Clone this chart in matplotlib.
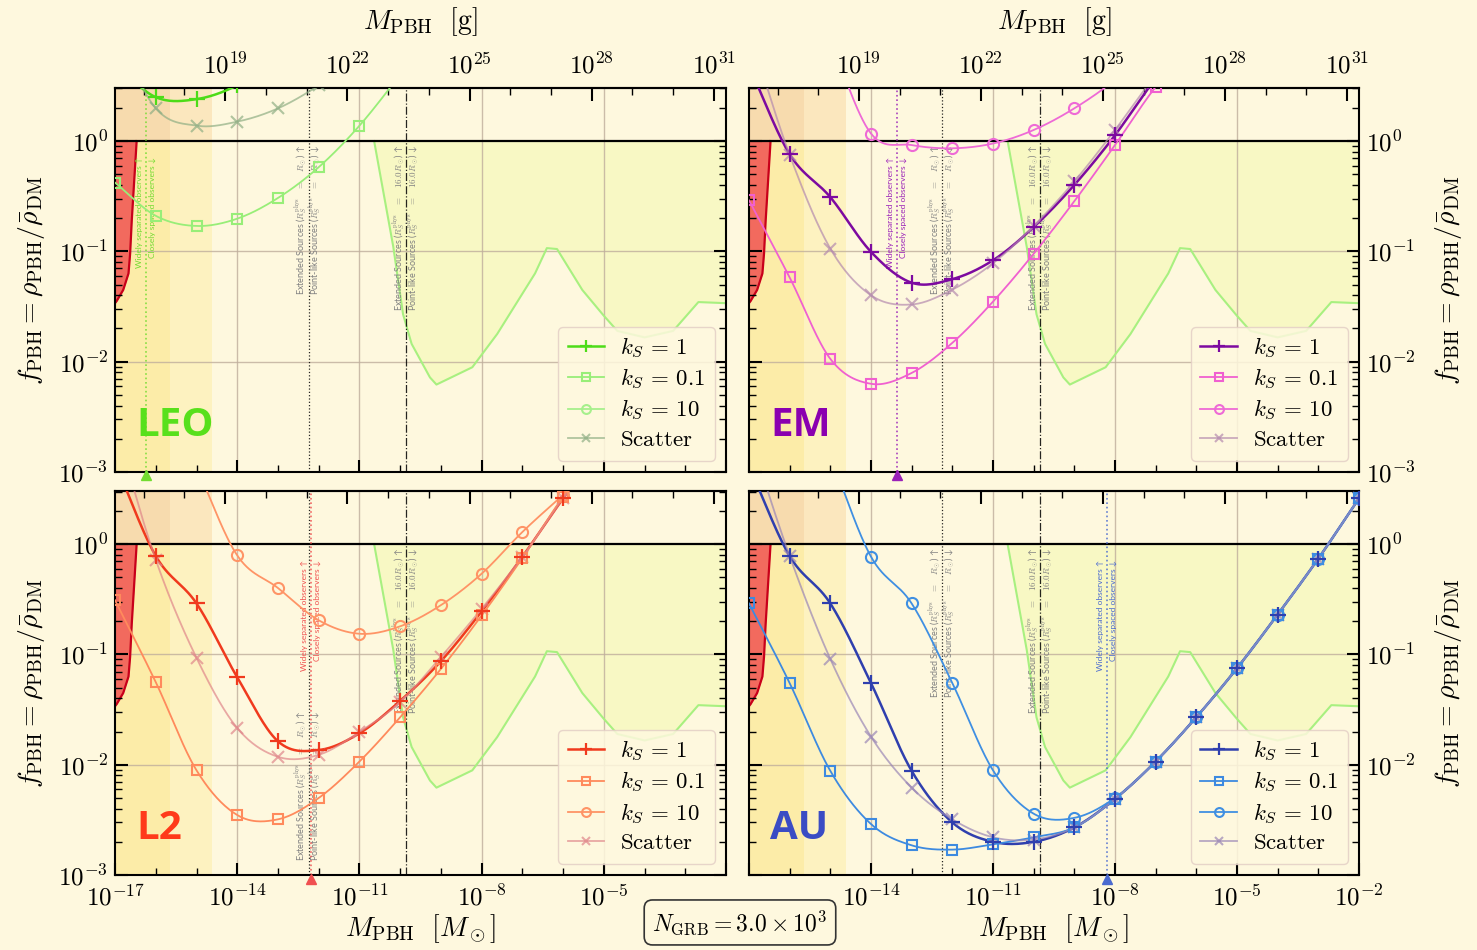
import numpy as np
import matplotlib
matplotlib.use("Agg")
import matplotlib.pyplot as plt
import matplotlib.transforms as mtransforms
from matplotlib.lines import Line2D
from matplotlib.ticker import FixedLocator, LogLocator, FuncFormatter, NullFormatter

plt.rcParams.update({
    "mathtext.fontset": "cm",
    "font.family": ["DejaVu Serif"],
    "axes.linewidth": 1.5,
})

nan = np.nan
BG = "#fef8de"
MSUN_G = 1.989e33

# ---------------------------------------------------------------- data
# PBH mass grid, log10(M / M_sun), one point per decade
MASS_DECADES = [-17, -16, -15, -14, -13, -12, -11, -10, -9, -8, -7, -6, -5, -4, -3, -2]

# LEO
LEO_KS1 = [5.0, 2.5, 2.4, 3.2, 5.5, 10, nan, nan, nan, nan, nan, nan, nan, nan, nan, nan]
LEO_KS01 = [0.42, 0.21, 0.17, 0.198, 0.305, 0.58, 1.38, 4.0, 12, nan, nan, nan, nan, nan, nan, nan]
LEO_KS10 = [nan, nan, 20, 12, 9, 8, 9, 14, nan, nan, nan, nan, nan, nan, nan, nan]
LEO_SCAT = [10, 1.98, 1.38, 1.5, 1.98, 3.2, 6, nan, nan, nan, nan, nan, nan, nan, nan, nan]

# EM
EM_KS1 = [4.8, 0.76, 0.31, 0.099, 0.052, 0.056, 0.083, 0.166, 0.40, 1.13, 3.7, 10, nan, nan, nan, nan]
EM_KS01 = [0.29, 0.058, 0.0106, 0.0063, 0.0079, 0.0148, 0.035, 0.095, 0.285, 0.92, 3.1, 8, nan, nan, nan, nan]
EM_KS10 = [nan, nan, 8.0, 1.17, 0.92, 0.86, 0.95, 1.26, 1.98, 3.6, 8, nan, nan, nan, nan, nan]
EM_SCAT = [10, 0.75, 0.106, 0.04, 0.033, 0.045, 0.078, 0.17, 0.43, 1.26, 4.0, 11, nan, nan, nan, nan]

# L2
L2_KS1 = [5.5, 0.78, 0.29, 0.062, 0.0163, 0.0136, 0.0193, 0.038, 0.087, 0.246, 0.77, 2.6, 8, nan, nan, nan]
L2_KS01 = [0.31, 0.056, 0.0089, 0.0035, 0.0032, 0.005, 0.0107, 0.027, 0.074, 0.226, 0.75, 2.7, 8, nan, nan, nan]
L2_KS10 = [nan, nan, 5.0, 0.79, 0.40, 0.204, 0.154, 0.18, 0.28, 0.54, 1.29, 2.8, 6, nan, nan, nan]
L2_SCAT = [12, 0.72, 0.093, 0.0215, 0.0118, 0.0123, 0.0198, 0.037, 0.095, 0.26, 0.77, 2.6, 8, nan, nan, nan]

# AU
AU_KS1 = [5.1, 0.78, 0.29, 0.055, 0.0088, 0.0030, 0.0020, 0.0020, 0.0027, 0.0049, 0.0107, 0.027, 0.075, 0.23, 0.74, 2.6]
AU_KS01 = [0.29, 0.055, 0.0088, 0.0029, 0.00186, 0.0017, 0.0019, 0.0022, 0.0027, 0.0049, 0.0107, 0.027, 0.075, 0.23, 0.74, 2.6]
AU_KS10 = [nan, nan, 6.3, 0.77, 0.29, 0.055, 0.0089, 0.0036, 0.0033, 0.005, 0.0107, 0.027, 0.075, 0.23, 0.74, 2.6]
AU_SCAT = [10, 0.78, 0.091, 0.018, 0.0062, 0.0032, 0.0022, 0.0021, 0.0027, 0.0049, 0.0107, 0.027, 0.075, 0.23, 0.74, 2.6]

# existing microlensing bound
ML_LOGM = [-10.64, -10.17, -9.93, -9.72, -9.27, -9.11, -8.23, -7.62, -6.69, -6.4, -6.15,
           -5.53, -5.01, -4.67, -4.0, -3.3, -2.68, -2.0]
ML_F = [1.0, 0.11, 0.0269, 0.0145, 0.0072, 0.0062, 0.0089, 0.0178, 0.0631, 0.107, 0.105,
        0.0447, 0.0263, 0.019, 0.0166, 0.019, 0.0347, 0.0339]

# existing evaporation bound
EVAP_LOGM = [-17.0, -16.96, -16.8, -16.67, -16.63, -16.59, -16.47]
EVAP_F = [0.034, 0.0355, 0.0447, 0.063, 0.0955, 0.19, 1.0]

# shaded mass bands (log10 M / M_sun)
BAND_EDGES = [-17.0, -15.65, -14.62]

# characteristic masses for the source-size transitions
SRC_SUN_LOGM = -12.25
SRC_16SUN_LOGM = -9.85

N_GRB_LABEL = r"$N_{\rm GRB} = 3.0 \times 10^3$"

SERIES_LABELS = [r"$k_S\,=\,1$", r"$k_S\,=\,0.1$", r"$k_S\,=\,10$", r"$\mathrm{Scatter}$"]

PANELS = [
    dict(name="LEO", data=[LEO_KS1, LEO_KS01, LEO_KS10, LEO_SCAT], obs=-16.24,
         colors=["#4ddc18", "#98ee78", "#a6f08c", "#8fae84"], label_color="#58e01c",
         obs_color="#72dc30"),
    dict(name="EM", data=[EM_KS1, EM_KS01, EM_KS10, EM_SCAT], obs=-13.36,
         colors=["#7d0aa0", "#f060d0", "#ee6ad6", "#b48aae"], label_color="#8a00b0",
         obs_color="#9a20b8"),
    dict(name="L2", data=[L2_KS1, L2_KS01, L2_KS10, L2_SCAT], obs=-12.2,
         colors=["#f03a1e", "#ff8a5c", "#ff9466", "#e0868a"], label_color="#ff3a1a",
         obs_color="#f05050"),
    dict(name="AU", data=[AU_KS1, AU_KS01, AU_KS10, AU_SCAT], obs=-8.2,
         colors=["#2f3fae", "#3d8ae0", "#3f8fe2", "#9a86b6"], label_color="#3a4cc4",
         obs_color="#4a6ad0"),
]

STYLES = [
    dict(marker="+", ms=11, mew=1.6, lw=1.8, mfc="none", alpha=1.0),
    dict(marker="s", ms=7, mew=1.5, lw=1.3, mfc="none", alpha=1.0),
    dict(marker="o", ms=8, mew=1.5, lw=1.3, mfc="none", alpha=1.0),
    dict(marker="x", ms=8, mew=1.5, lw=1.3, mfc="none", alpha=0.7),
]

XMIN, XMAX = 1e-17, 1e-2
YMIN, YMAX = 1e-3, 3.03

SRC_FONT = dict(family=["Lato", "DejaVu Sans"], fontsize=6.5)
OBS_FONT = dict(family=["Lato", "DejaVu Sans"], fontsize=6.0)


def smooth(logm, logf, n=30):
    """Catmull-Rom curve through points in log-log space."""
    P = np.column_stack([logm, logf])
    m = len(P)
    out = []
    for i in range(m - 1):
        p1, p2 = P[i], P[i + 1]
        p0 = P[i - 1] if i > 0 else 2 * p1 - p2
        p3 = P[i + 2] if i + 2 < m else 2 * p2 - p1
        t = np.linspace(0, 1, n, endpoint=(i == m - 2))[:, None]
        seg = 0.5 * (2 * p1 + (-p0 + p2) * t + (2 * p0 - 5 * p1 + 4 * p2 - p3) * t ** 2
                     + (-p0 + 3 * p1 - 3 * p2 + p3) * t ** 3)
        out.append(seg)
    out = np.vstack(out)
    return out[:, 0], out[:, 1]


def sci_formatter(skip=()):
    def f(v, pos):
        if v <= 0:
            return ""
        e = int(round(np.log10(v)))
        if e in skip:
            return ""
        return r"$10^{%d}$" % e
    return FuncFormatter(f)


fig = plt.figure(figsize=(14.77, 9.5), dpi=100, facecolor=BG)
positions = [
    [0.0779, 0.5032, 0.4137, 0.4042],
    [0.5071, 0.5032, 0.4130, 0.4042],
    [0.0779, 0.0789, 0.4137, 0.4042],
    [0.5071, 0.0789, 0.4130, 0.4042],
]

for idx, (panel, pos) in enumerate(zip(PANELS, positions)):
    ax = fig.add_axes(pos)
    ax.set_facecolor(BG)
    ax.set_xscale("log")
    ax.set_yscale("log")
    ax.set_xlim(XMIN, XMAX)
    ax.set_ylim(YMIN, YMAX)
    top_row = idx < 2
    left_col = idx % 2 == 0

    # shaded mass bands
    b0, b1, b2 = [10 ** b for b in BAND_EDGES]
    ax.fill_between([b0, b1], YMIN, 1, color="#fceca8", lw=0, zorder=0)
    ax.fill_between([b1, b2], YMIN, 1, color="#fdf2c0", lw=0, zorder=0)
    ax.fill_between([b0, b1], 1, YMAX, color="#f7dbae", lw=0, zorder=0)
    ax.fill_between([b1, b2], 1, YMAX, color="#fbe7be", lw=0, zorder=0)

    # microlensing bound: excluded region between the bound and f = 1
    mlx = 10 ** np.array(ML_LOGM)
    ax.fill(np.concatenate([mlx, mlx[::-1]]),
            np.concatenate([ML_F, np.ones(len(ML_F))]),
            color="#f8f8c4", lw=0, zorder=0.5)
    ax.plot(mlx, ML_F, color="#a8f080", lw=1.5, zorder=1)

    # evaporation bound
    evx = 10 ** np.array(EVAP_LOGM)
    ax.fill_between(evx, EVAP_F, 1, color="#f26a5e", lw=0, zorder=1)
    ax.plot(evx, EVAP_F, color="#c8001a", lw=1.6, zorder=1.1)

    # grid
    for g in [-14, -11, -8, -5]:
        ax.axvline(10.0 ** g, color="#bfae9c", lw=1.0, alpha=0.8, zorder=0.8)
    for g in [1e-1, 1e-2]:
        ax.axhline(g, color="#bfae9c", lw=1.0, alpha=0.8, zorder=0.8)
    ax.axhline(1.0, color="black", lw=1.6, zorder=2)

    # source-size transitions
    low = panel["name"] == "L2"
    for lm, ls, tag, y_txt, va in [
        (SRC_SUN_LOGM, ":", r"R_\odot", 1.35e-3 if low else 0.93, "bottom" if low else "top"),
        (SRC_16SUN_LOGM, "-.", r"16.0R_\odot", 0.93, "top"),
    ]:
        x = 10 ** lm
        ax.axvline(x, color="black", ls=ls, lw=0.9, alpha=0.85, zorder=2)
        tl = mtransforms.offset_copy(ax.transData, fig=fig, x=-5, y=0, units="points")
        tr = mtransforms.offset_copy(ax.transData, fig=fig, x=5, y=0, units="points")
        ax.text(x, y_txt, r"Extended Sources ($R_S^{\rm phys}\quad=\quad %s$) ↑" % tag,
                transform=tl, rotation=90, ha="center", va=va, color="#808080",
                zorder=2, **SRC_FONT)
        ax.text(x, y_txt, r"Point-like Sources ($R_S^{\rm phys}\quad=\quad %s$) ↓" % tag,
                transform=tr, rotation=90, ha="center", va=va, color="#808080",
                zorder=2, **SRC_FONT)

    # observer separation
    xo = 10 ** panel["obs"]
    oc = panel["obs_color"]
    ax.axvline(xo, color=oc, ls=":", lw=1.2, alpha=0.85, zorder=2)
    tl = mtransforms.offset_copy(ax.transData, fig=fig, x=-4.5, y=0, units="points")
    tr = mtransforms.offset_copy(ax.transData, fig=fig, x=4.5, y=0, units="points")
    ax.text(xo, 0.72, "Widely separated observers ↑", transform=tl, rotation=90,
            ha="center", va="top", color=oc, zorder=2, **OBS_FONT)
    ax.text(xo, 0.72, "Closely spaced observers ↓", transform=tr, rotation=90,
            ha="center", va="top", color=oc, zorder=2, **OBS_FONT)
    tri = mtransforms.offset_copy(ax.transData, fig=fig, x=0, y=-2.5, units="points")
    ax.plot([xo], [YMIN], marker="^", ms=6.5, color=oc, transform=tri,
            clip_on=False, zorder=10)

    # bound curves
    handles = []
    for k in [3, 1, 2, 0]:
        vals = np.array(panel["data"][k], dtype=float)
        st = STYLES[k]
        col = panel["colors"][k]
        ok = ~np.isnan(vals)
        lm = np.array(MASS_DECADES, dtype=float)[ok]
        lf = np.log10(vals[ok])
        sx, sy = smooth(lm, lf)
        ax.plot(10 ** sx, 10 ** sy, color=col, lw=st["lw"], alpha=st["alpha"], zorder=4 + k * 0.01)
        ax.plot(10 ** lm, vals[ok], ls="none", marker=st["marker"], ms=st["ms"], mew=st["mew"],
                mfc=st["mfc"], mec=col, alpha=st["alpha"], zorder=4.5)
    for k in range(4):
        st = STYLES[k]
        col = panel["colors"][k]
        handles.append(Line2D([], [], color=col, lw=st["lw"], marker=st["marker"],
                              ms=st["ms"] * 0.8, mew=st["mew"], mfc=st["mfc"], mec=col,
                              alpha=st["alpha"]))
    leg = ax.legend(handles, SERIES_LABELS, loc="lower right", fontsize=16.5,
                    frameon=True, fancybox=True, facecolor=BG, edgecolor="#e4cfc6",
                    framealpha=0.85, handlelength=1.6, labelspacing=0.3,
                    borderpad=0.4, handletextpad=0.7)
    leg.set_zorder(8)

    ax.text(0.035, 0.12, panel["name"], transform=ax.transAxes, fontsize=29,
            fontweight="bold", family="Open Sans", color=panel["label_color"],
            va="center", ha="left", zorder=9)

    # axes ticks
    ax.xaxis.set_major_locator(FixedLocator([1e-17, 1e-14, 1e-11, 1e-8, 1e-5, 1e-2]))
    ax.xaxis.set_minor_locator(FixedLocator([10.0 ** e for e in range(-17, -1)]))
    ax.xaxis.set_minor_formatter(NullFormatter())
    ax.yaxis.set_major_locator(LogLocator(base=10, numticks=10))
    ax.yaxis.set_minor_locator(LogLocator(base=10, subs=np.arange(2, 10), numticks=20))
    ax.yaxis.set_minor_formatter(NullFormatter())
    ax.tick_params(which="both", direction="in", top=False, bottom=True, left=True, right=True)
    ax.tick_params(which="major", length=9, width=1.5, labelsize=18)
    ax.tick_params(which="minor", length=5, width=1.0)
    if top_row:
        ax.tick_params(axis="x", labelbottom=False)
    else:
        ax.xaxis.set_major_formatter(sci_formatter(skip=(-2,) if left_col else (-17,)))
        ax.set_xlabel(r"$M_{\rm PBH}\ \ [M_\odot]$", fontsize=20, labelpad=1)
        ax.tick_params(axis="x", pad=7)
    ylab = r"$f_{\rm PBH} = \rho_{\rm PBH}/\bar{\rho}_{\rm DM}$"
    if left_col:
        ax.yaxis.set_major_formatter(sci_formatter())
        ax.tick_params(axis="y", labelleft=True, labelright=False, pad=5)
        ax.set_ylabel(ylab, fontsize=20)
        ax.yaxis.set_label_coords(-0.112, 0.5)
    else:
        ax.yaxis.set_major_formatter(sci_formatter(skip=(-3,) if not top_row else ()))
        ax.tick_params(axis="y", labelleft=False, labelright=True, pad=5)
        ax.yaxis.set_label_position("right")
        ax.set_ylabel(ylab, fontsize=20)
        ax.yaxis.set_label_coords(1.122, 0.5)

    # mass in grams on the top axis
    sec = ax.secondary_xaxis("top", functions=(lambda m: m * MSUN_G, lambda g: g / MSUN_G))
    sec.xaxis.set_major_locator(FixedLocator([1e19, 1e22, 1e25, 1e28, 1e31]))
    sec.xaxis.set_minor_locator(FixedLocator([10.0 ** e for e in range(16, 32)]))
    sec.xaxis.set_minor_formatter(NullFormatter())
    sec.tick_params(which="both", direction="in")
    sec.tick_params(which="major", length=9, width=1.5, labelsize=18, pad=7)
    sec.tick_params(which="minor", length=5, width=1.0)
    if top_row:
        sec.xaxis.set_major_formatter(sci_formatter())
        sec.set_xlabel(r"$M_{\rm PBH}\ \ [\mathrm{g}]$", fontsize=20, labelpad=17)
    else:
        sec.xaxis.set_major_formatter(NullFormatter())

fig.text(0.501, 0.029, N_GRB_LABEL, ha="center", va="center", fontsize=17,
         bbox=dict(boxstyle="round,pad=0.35", fc=BG, ec="#333333", lw=1.2))

fig.savefig("out.png", dpi=100, facecolor=BG)
